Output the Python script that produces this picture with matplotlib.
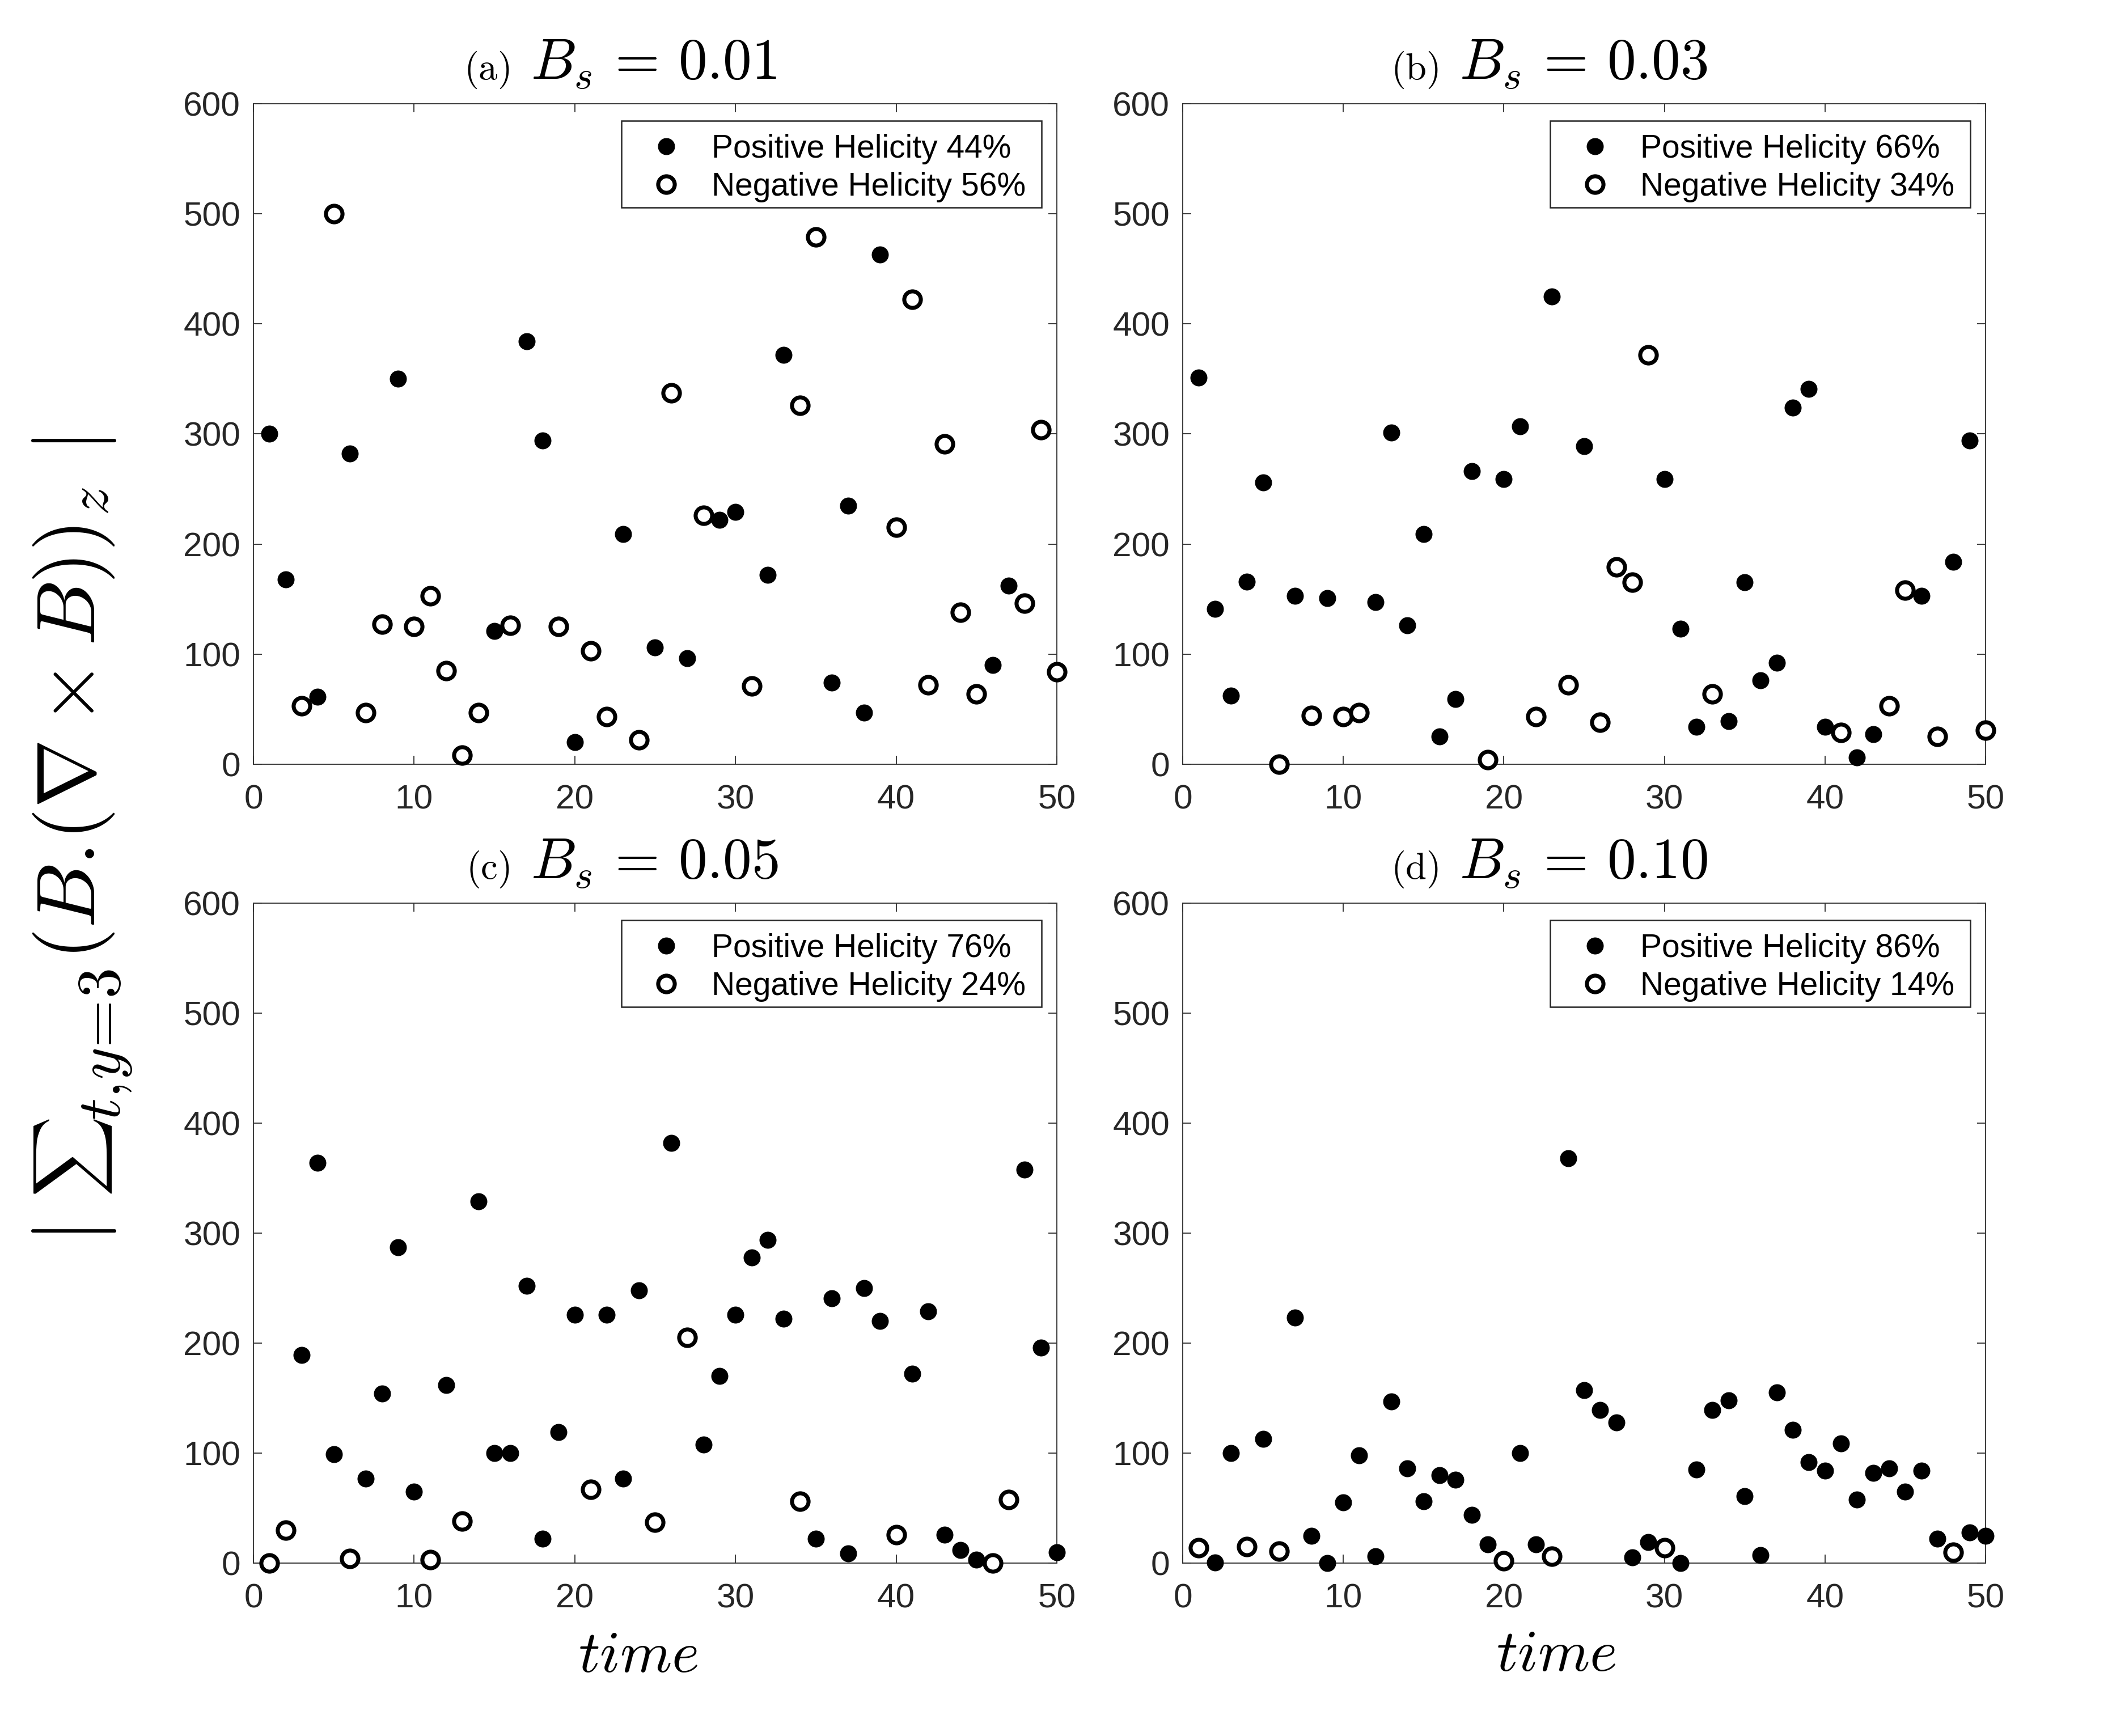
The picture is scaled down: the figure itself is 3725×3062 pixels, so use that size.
import matplotlib
matplotlib.use('Agg')
import matplotlib.pyplot as plt
from matplotlib.patches import Rectangle

plt.rcParams['font.family'] = ['Liberation Sans', 'DejaVu Sans']
plt.rcParams['mathtext.fontset'] = 'cm'

time = list(range(1, 51))

values_a = [300, 168, 53, 61, 500, 282, 47, 127, 350, 125, 153, 85, 8, 47, 121, 126, 384, 294, 125, 20,
            103, 43, 209, 22, 106, 337, 96, 226, 222, 229, 71, 172, 372, 326, 479, 74, 235, 47, 463, 215,
            422, 72, 291, 138, 64, 90, 162, 146, 304, 84]
signs_a = "PPNPNPNNPNNNNNPNPPNPNNPNPNPNPPNPPNNPPPPNNNNNNPPNNN"

values_b = [351, 141, 62, 166, 256, 0, 153, 44, 151, 43, 47, 147, 301, 126, 209, 25, 59, 266, 4, 259,
            307, 43, 425, 72, 289, 38, 179, 165, 372, 259, 123, 34, 64, 39, 165, 76, 92, 324, 341, 34,
            29, 6, 27, 53, 158, 153, 25, 184, 294, 31]
signs_b = "PPPPPNPNPNNPPPPPPPNPPNPNPNNNNPPPNPPPPPPPNPPNNPNPPN"

values_c = [0, 30, 189, 364, 99, 4, 77, 154, 287, 65, 3, 162, 38, 329, 100, 100, 252, 22, 119, 226,
            67, 226, 77, 248, 37, 382, 205, 108, 170, 226, 278, 294, 222, 56, 22, 241, 9, 250, 220, 26,
            172, 229, 26, 12, 3, 0, 58, 358, 196, 10]
signs_c = "NNPPPNPPPPNPNPPPPPPPNPPPNPNPPPPPPNPPPPPNPPPPPNNPPP"

values_d = [14, 0.5, 100, 15, 113, 11, 223, 25, 0, 55, 98, 6, 147, 86, 56, 80, 76, 44, 17, 2,
            100, 17, 6, 368, 157, 139, 128, 5, 19, 14, 0, 85, 139, 148, 61, 7, 155, 121, 92, 84,
            109, 58, 82, 86, 65, 84, 22, 10, 28, 25]
signs_d = "NPPNPNPPPPPPPPPPPPPNPPNPPPPPPNPPPPPPPPPPPPPPPPPNPP"

panel_tags = ["(a)", "(b)", "(c)", "(d)"]
bs_labels = ["0.01", "0.03", "0.05", "0.10"]
pos_pct = [44, 66, 76, 86]
neg_pct = [56, 34, 24, 14]
xticks = [0, 10, 20, 30, 40, 50]
yticks = [0, 100, 200, 300, 400, 500, 600]

all_values = [values_a, values_b, values_c, values_d]
all_signs = [signs_a, signs_b, signs_c, signs_d]

W, H = 3725, 3062
fig = plt.figure(figsize=(W / 300, H / 300), dpi=300)

rects = [
    [0.1200, 0.5598, 0.3804, 0.3805],
    [0.5600, 0.5598, 0.3801, 0.3805],
    [0.1200, 0.0996, 0.3804, 0.3801],
    [0.5600, 0.0996, 0.3801, 0.3801],
]

spine_col = '#333333'
text_col = '#262626'

# extra legend-frame padding (pixels) on the right and top
pad_right = 12
pad_top = 7

axes_list = []
legends = []
for i in range(4):
    ax = fig.add_axes(rects[i])
    axes_list.append(ax)
    vals = all_values[i]
    sg = all_signs[i]
    xp = [t for t, s in zip(time, sg) if s == 'P']
    yp = [v for v, s in zip(vals, sg) if s == 'P']
    xn = [t for t, s in zip(time, sg) if s == 'N']
    yn = [v for v, s in zip(vals, sg) if s == 'N']
    ax.plot(xp, yp, linestyle='none', marker='o', ms=6.9, mfc='black', mec='black', mew=0.3,
            clip_on=False, zorder=3, label=f"Positive Helicity {pos_pct[i]}%")
    ax.plot(xn, yn, linestyle='none', marker='o', ms=7.0, mfc='white', mec='black', mew=1.7,
            clip_on=False, zorder=3, label=f"Negative Helicity {neg_pct[i]}%")
    ax.set_xlim(0, 50)
    ax.set_ylim(0, 600)
    ax.set_xticks(xticks)
    ax.set_yticks(yticks)
    ax.tick_params(direction='in', top=True, right=True, length=3.6, width=0.45,
                   color=spine_col, labelcolor=text_col, labelsize=14.5)
    ax.tick_params(axis='x', pad=8.5)
    ax.tick_params(axis='y', pad=5.5)
    for sp in ax.spines.values():
        sp.set_linewidth(0.45)
        sp.set_color(spine_col)

    ax.text(0.319, 1.037, r'$\mathrm{' + panel_tags[i] + '}$', transform=ax.transAxes,
            ha='right', va='baseline', fontsize=16, color='black')
    ax.text(0.345, 1.037, r'$B_s\,=\,' + bs_labels[i] + '$', transform=ax.transAxes,
            ha='left', va='baseline', fontsize=24.3, color='black')

    axw = rects[i][2] * W
    axh = rects[i][3] * H
    leg = ax.legend(loc='upper right',
                    bbox_to_anchor=(0.9809 - pad_right / axw, 0.9742 - pad_top / axh),
                    borderaxespad=0, fontsize=13.7, frameon=False,
                    borderpad=0.28, labelspacing=0.225, handlelength=2.2,
                    handletextpad=0.3, numpoints=1)
    leg.set_zorder(6)
    for t in leg.get_texts():
        t.set_color('black')
    legends.append(leg)

    if i == 2:
        ax.text(0.479, -0.165, r'$time$', transform=ax.transAxes, ha='center',
                va='baseline', fontsize=25)
    if i == 3:
        ax.text(0.465, -0.163, r'$time$', transform=ax.transAxes, ha='center',
                va='baseline', fontsize=25)

# draw legend frames (slightly wider on the right / top, as in the original)
fig.canvas.draw()
renderer = fig.canvas.get_renderer()
for ax, leg in zip(axes_list, legends):
    bb = leg.get_window_extent(renderer)
    x0, y0 = bb.x0, bb.y0 + pad_top
    w, h = bb.width + pad_right, bb.height
    inv = fig.transFigure.inverted()
    (fx0, fy0), (fx1, fy1) = inv.transform([(x0, y0), (x0 + w, y0 + h)])
    ax.add_patch(Rectangle((fx0, fy0), fx1 - fx0, fy1 - fy0, transform=fig.transFigure,
                           facecolor='white', edgecolor=text_col, linewidth=0.6,
                           zorder=5, clip_on=False))

# y label, assembled from pieces along the vertical direction
def fx(px):
    return px / W

def fy(py):
    return 1 - py / H

common = dict(rotation=90, rotation_mode='anchor', color='black')
fig.text(fx(131), fy(2179), r'$|$', ha='center', va='center', fontsize=36, **common)
fig.text(fx(129), fy(2042), r'$\sum$', ha='center', va='center', fontsize=23.7, **common)
fig.text(fx(212), fy(1842), r'$t,\!y\!=\!3$', ha='center', va='baseline', fontsize=26, **common)
fig.text(fx(167), fy(1276), r'$(B.\!(\nabla\times B))_z$', ha='center', va='baseline',
         fontsize=35, **common)
fig.text(fx(131), fy(785), r'$|$', ha='center', va='center', fontsize=36, **common)

fig.savefig('out.png', dpi=300)
